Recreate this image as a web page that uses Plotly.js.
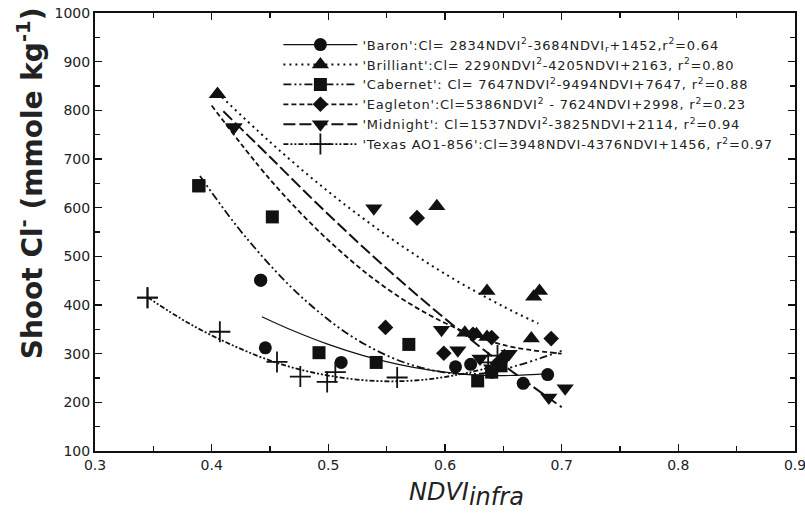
<!DOCTYPE html>
<html>
<head>
<meta charset="utf-8">
<script src="https://cdn.plot.ly/plotly-3.0.1.min.js"></script>
<style>html,body{margin:0;padding:0;background:#fff;}#chart{width:805px;height:527px;}</style>
</head>
<body>
<div id="chart"></div>
<script>
// ---- Observed data points (NDVI_infra, shoot Cl-) ----
var baronX = [0.442, 0.446, 0.511, 0.609, 0.622, 0.640, 0.667, 0.688];
var baronY = [451, 312, 282, 273, 278, 262, 239, 257];
var brilliantX = [0.405, 0.593, 0.636, 0.676, 0.681, 0.674, 0.617, 0.627, 0.636];
var brilliantY = [833, 603, 429, 417, 429, 331, 343, 340, 334];
var cabernetX = [0.389, 0.452, 0.492, 0.541, 0.569, 0.628, 0.640, 0.648];
var cabernetY = [645, 581, 302, 282, 319, 244, 262, 275];
var eagletonX = [0.576, 0.549, 0.599, 0.691, 0.624, 0.640, 0.651, 0.645];
var eagletonY = [579, 354, 301, 331, 340, 333, 294, 280];
var midnightX = [0.419, 0.539, 0.597, 0.611, 0.630, 0.640, 0.648, 0.655, 0.689, 0.703];
var midnightY = [765, 599, 349, 307, 290, 270, 280, 300, 210, 229];
var texasX = [0.345, 0.407, 0.456, 0.476, 0.499, 0.506, 0.559, 0.637, 0.645];
var texasY = [415, 345, 283, 253, 242, 262, 251, 282, 296];

// ---- Fitted curves ----
var baronFitX = [0.443, 0.47, 0.50, 0.53, 0.56, 0.59, 0.62, 0.65, 0.69];
var baronFitY = [376, 347, 319, 296, 278, 265, 257, 255, 259];
var brilliantFitX = [0.405, 0.45, 0.50, 0.55, 0.60, 0.65, 0.68];
var brilliantFitY = [836, 735, 633, 543, 464, 397, 362];
var cabernetFitX = [0.39, 0.43, 0.48, 0.53, 0.58, 0.63, 0.70];
var cabernetFitY = [665, 537, 410, 321, 271, 259, 306];
var eagletonFitX = [0.40, 0.45, 0.50, 0.55, 0.60, 0.65, 0.70];
var eagletonFitY = [810, 658, 533, 434, 363, 318, 300];
var midnightFitX = [0.41, 0.45, 0.50, 0.55, 0.60, 0.65, 0.70];
var midnightFitY = [798, 704, 586, 475, 372, 277, 190];
var texasFitX = [0.345, 0.38, 0.42, 0.46, 0.50, 0.54, 0.58, 0.62, 0.645];
var texasFitY = [416, 363, 315, 278, 255, 244, 246, 261, 276];

// ---- Tick labels ----
var xTickVals = [0.3, 0.4, 0.5, 0.6, 0.7, 0.8, 0.9];
var xTickText = ['0.3', '0.4', '0.5', '0.6', '0.7', '0.8', '0.9'];
var yTickVals = [100, 200, 300, 400, 500, 600, 700, 800, 900, 1000];

// ---- Legend labels ----
var legendLabels = [
  "'Baron':Cl= 2834NDVI<sup>2</sup>-3684NDVI<sub>r</sub>+1452,r<sup>2</sup>=0.64",
  "'Brilliant':Cl= 2290NDVI<sup>2</sup>-4205NDVI+2163, r<sup>2</sup>=0.80",
  "'Cabernet': Cl= 7647NDVI<sup>2</sup>-9494NDVI+7647, r<sup>2</sup>=0.88",
  "'Eagleton':Cl=5386NDVI<sup>2</sup> - 7624NDVI+2998, r<sup>2</sup>=0.23",
  "'Midnight': Cl=1537NDVI<sup>2</sup>-3825NDVI+2114, r<sup>2</sup>=0.94",
  "'Texas AO1-856':Cl=3948NDVI-4376NDVI+1456, r<sup>2</sup>=0.97"
];

var series = [
  {x: baronX, y: baronY, fx: baronFitX, fy: baronFitY, sym: 'circle', dash: 'solid', lw: 1.2, ms: 13},
  {x: brilliantX, y: brilliantY, fx: brilliantFitX, fy: brilliantFitY, sym: 'triangle-up', dash: '2px,4px', lw: 2, ms: 15},
  {x: cabernetX, y: cabernetY, fx: cabernetFitX, fy: cabernetFitY, sym: 'square', dash: '8px,3px,2px,3px,2px,3px', lw: 1.8, ms: 13},
  {x: eagletonX, y: eagletonY, fx: eagletonFitX, fy: eagletonFitY, sym: 'diamond', dash: '5px,3px', lw: 1.8, ms: 12},
  {x: midnightX, y: midnightY, fx: midnightFitX, fy: midnightFitY, sym: 'triangle-down', dash: '12px,4px', lw: 2, ms: 15},
  {x: texasX, y: texasY, fx: texasFitX, fy: texasFitY, sym: 'cross-thin', dash: '5px,2px,2px,2px,2px,2px', lw: 1.8, ms: 15}
];

var traces = [];
series.forEach(function(s, i) {
  var mk = {symbol: s.sym, size: s.ms, color: '#111', line: {color: '#111', width: s.sym === 'cross-thin' ? 1.8 : 0}};
  traces.push({type: 'scatter', mode: 'lines', x: s.fx, y: s.fy, showlegend: false,
    line: {color: '#111', width: s.lw, dash: s.dash, shape: 'spline'}, hoverinfo: 'skip'});
  traces.push({type: 'scatter', mode: 'markers', x: s.x, y: s.y, showlegend: false, marker: mk});
  traces.push({type: 'scatter', mode: 'lines+markers', x: [s.x[0]], y: [s.y[0]],
    name: '<span style="letter-spacing:0.8px">' + legendLabels[i] + '</span>',
    showlegend: true, marker: mk, line: {color: '#111', width: s.lw, dash: s.dash}});
});

var tickFont = {family: 'DejaVu Sans, Arial, sans-serif', size: 14, color: '#222'};
var layout = {
  width: 805, height: 527,
  margin: {l: 95, r: 10, t: 13, b: 76},
  paper_bgcolor: '#fff', plot_bgcolor: '#fff',
  showlegend: true,
  legend: {x: 0.262, y: 0.962, xanchor: 'left', yanchor: 'top', bgcolor: 'rgba(0,0,0,0)',
    font: {family: 'DejaVu Sans, Arial, sans-serif', size: 13, color: '#222'},
    itemwidth: 74, tracegroupgap: 0},
  xaxis: {range: [0.3, 0.9], tickmode: 'array', tickvals: xTickVals, ticktext: xTickText,
    ticklabeloverflow: 'allow',
    showgrid: false, zeroline: false,
    showline: true, linecolor: '#111', linewidth: 2, mirror: 'ticks',
    ticks: 'inside', ticklen: 7, tickwidth: 1.5, tickcolor: '#111', tickfont: tickFont,
    minor: {dtick: 0.05, tick0: 0.3, ticks: 'inside', ticklen: 5, tickwidth: 1.5, tickcolor: '#111', showgrid: false}},
  yaxis: {range: [100, 1000], tickmode: 'array', tickvals: yTickVals, showgrid: false, zeroline: false,
    ticklabeloverflow: 'allow',
    showline: true, linecolor: '#111', linewidth: 2, mirror: 'ticks',
    ticks: 'inside', ticklen: 7, tickwidth: 1.5, tickcolor: '#111', tickfont: tickFont,
    minor: {dtick: 50, tick0: 100, ticks: 'inside', ticklen: 5, tickwidth: 1.5, tickcolor: '#111', showgrid: false}},
  annotations: [
    {xref: 'paper', yref: 'paper', x: -0.091, y: 0.612, xanchor: 'center', yanchor: 'middle',
     textangle: -90, showarrow: false,
     text: 'Shoot Cl<sup>-</sup> (mmole kg<sup>-1</sup>)',
     font: {family: 'DejaVu Sans, Arial, sans-serif', size: 28, color: '#222', weight: 'bold'}},
    {xref: 'paper', yref: 'paper', x: 0.53, y: -0.1, xanchor: 'center', yanchor: 'middle',
     showarrow: false,
     text: '<i>NDVI<sub><span style="font-size:24px">infra</span></sub></i>',
     font: {family: 'DejaVu Sans, Arial, sans-serif', size: 24, color: '#222'}}
  ]
};

Plotly.newPlot('chart', traces, layout, {displayModeBar: false, staticPlot: true});
</script>
</body>
</html>
